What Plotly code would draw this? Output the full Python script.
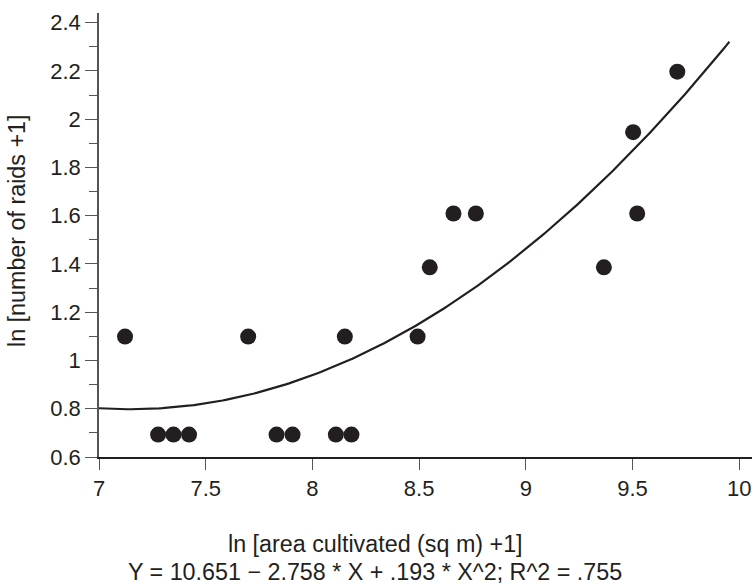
import numpy as np
import plotly.graph_objects as go

# Data: ln(area cultivated + 1) vs ln(number of raids + 1)
area_ln = [7.122, 7.277, 7.349, 7.422, 7.699, 7.832, 7.907, 8.110, 8.152, 8.183,
           8.493, 8.550, 8.661, 8.766, 9.366, 9.503, 9.522, 9.710]
raids_ln = [1.099, 0.693, 0.693, 0.693, 1.099, 0.693, 0.693, 0.693, 1.099, 0.693,
            1.099, 1.386, 1.609, 1.609, 1.386, 1.946, 1.609, 2.197]

# Quadratic fit as printed on the chart
fit_coefs = [10.651, -2.758, 0.193]
fit_x_range = [7.0, 9.954]

x_ticks = [7, 7.5, 8, 8.5, 9, 9.5, 10]
x_tick_text = ["7", "7.5", "8", "8.5", "9", "9.5", "10"]
y_ticks = [0.6, 0.8, 1.0, 1.2, 1.4, 1.6, 1.8, 2.0, 2.2, 2.4]
y_tick_text = ["0.6", "0.8", "1", "1.2", "1.4", "1.6", "1.8", "2", "2.2", "2.4"]
y_minor = [0.7, 0.9, 1.1, 1.3, 1.5, 1.7, 1.9, 2.1, 2.3]

x_title = "ln [area cultivated (sq m) +1]"
eq_text = "Y = 10.651 \u2212 2.758 * X + .193 * X^2; R^2 = .755"
y_title = "ln [number of raids +1]"

INK = "#231f20"
AX = "#555555"
FONT = "Liberation Sans, Arial, Helvetica, sans-serif"

fx = np.linspace(fit_x_range[0], fit_x_range[1], 200)
fy = fit_coefs[0] + fit_coefs[1] * fx + fit_coefs[2] * fx ** 2

fig = go.Figure()
fig.add_trace(go.Scatter(x=fx, y=fy, mode="lines",
                         line=dict(color=INK, width=2.2), hoverinfo="skip",
                         showlegend=False))
fig.add_trace(go.Scatter(x=area_ln, y=raids_ln, mode="markers",
                         marker=dict(size=16, color=INK, line=dict(width=0)),
                         showlegend=False))

fig.update_layout(
    width=752, height=585,
    margin=dict(l=99, r=0, t=13, b=128),
    paper_bgcolor="white", plot_bgcolor="white",
    font=dict(family=FONT, color=INK, size=22),
    xaxis=dict(range=[7, 10.06], tickvals=x_ticks, ticktext=x_tick_text,
               showgrid=False, zeroline=False, showline=True, linecolor=INK,
               linewidth=1.5, ticks="outside", ticklen=11, tickwidth=1.3,
               tickcolor=AX, tickfont=dict(size=22, color=INK)),
    yaxis=dict(range=[0.6, 2.44], tickvals=y_ticks, ticktext=y_tick_text,
               showgrid=False, zeroline=False, showline=True, linecolor=AX,
               linewidth=1.5, ticks="outside", ticklen=12, tickwidth=1.3,
               tickcolor=AX, tickfont=dict(size=22, color=INK),
               minor=dict(tickvals=y_minor, ticks="outside", ticklen=8,
                          tickwidth=1.3, tickcolor=AX, showgrid=False)),
    annotations=[
        dict(text=x_title, xref="paper", yref="paper", x=0.4227, y=-0.196,
             xanchor="center", yanchor="middle", showarrow=False,
             font=dict(size=23.3, color=INK)),
        dict(text=eq_text, xref="paper", yref="paper", x=0.4227, y=-0.259,
             xanchor="center", yanchor="middle", showarrow=False,
             font=dict(size=23.3, color=INK)),
        dict(text=y_title, xref="paper", yref="paper", x=-0.1256, y=0.509,
             xanchor="center", yanchor="middle", showarrow=False, textangle=-90,
             font=dict(size=23.3, color=INK)),
    ],
)

fig.write_html("out.html", config={"displayModeBar": False},
               post_script="document.body.style.margin='0';document.body.style.overflow='hidden';")
